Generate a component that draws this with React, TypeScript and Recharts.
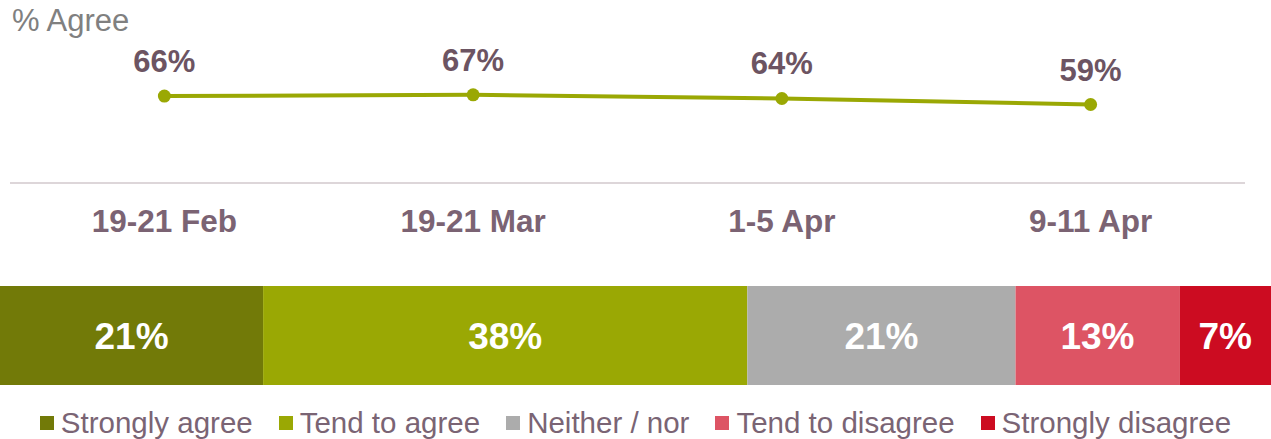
import React from "react";
import {
  LineChart,
  Line,
  XAxis,
  YAxis,
  BarChart,
  Bar,
  LabelList,
} from "recharts";

if (typeof document !== "undefined") document.body.style.margin = "0";

const FONT = "'Liberation Sans', Arial, sans-serif";

const PERIODS = ["19-21 Feb", "19-21 Mar", "1-5 Apr", "9-11 Apr"];
const AGREE = [66, 67, 64, 59];

const SEGMENTS = ["Strongly agree", "Tend to agree", "Neither / nor", "Tend to disagree", "Strongly disagree"];
const SEGMENT_KEYS = ["sa", "ta", "nn", "td", "sd"];
// unrounded shares; labels show them rounded
const SEGMENT_VALUES = [20.7, 38.1, 21.1, 12.9, 7.2];
const SEGMENT_COLORS = ["#727a08", "#9aa804", "#acacac", "#dd5464", "#cc0c21"];

const lineData = PERIODS.map((p, i) => ({ period: p, agree: AGREE[i] }));
const barData = [
  SEGMENT_KEYS.reduce((acc, k, i) => ({ ...acc, [k]: SEGMENT_VALUES[i] }), { name: "all" } as Record<string, number | string>),
];

function PeriodTick({ x, y, payload }: { x?: number; y?: number; payload?: { value: string } }) {
  return (
    <text
      x={x}
      y={(y ?? 0) + 41}
      textAnchor="middle"
      fill="#7b6373"
      fontSize={31.5}
      fontWeight="bold"
      fontFamily={FONT}
    >
      {payload?.value}
    </text>
  );
}

function PointLabel(props: { x?: number; y?: number; value?: number }) {
  const { x, y, value } = props;
  return (
    <text
      x={x}
      y={(y ?? 0) - 24}
      textAnchor="middle"
      fill="#6c5462"
      fontSize={31}
      fontWeight="bold"
      fontFamily={FONT}
    >
      {value}%
    </text>
  );
}

export default function App() {
  return (
    <div style={{ position: "relative", width: 1271, height: 439, fontFamily: FONT, background: "#fff" }}>
      <div
        style={{
          position: "absolute",
          left: 12,
          top: 3,
          fontSize: 31,
          color: "#808080",
          lineHeight: "36px",
        }}
      >
        % Agree
      </div>

      <div style={{ position: "absolute", left: 0, top: 0 }}>
        <LineChart width={1271} height={260} data={lineData} margin={{ top: 55, right: 26, left: 10, bottom: 17 }}>
          <XAxis
            dataKey="period"
            scale="band"
            height={60}
            axisLine={{ stroke: "#ddd6d9", strokeWidth: 2 }}
            tickLine={false}
            tick={<PeriodTick />}
            interval={0}
          />
          <YAxis hide domain={[-6, 100]} />
          <Line
            type="linear"
            dataKey="agree"
            stroke="#9aa804"
            strokeWidth={4}
            dot={{ r: 6.5, fill: "#9aa804", stroke: "none" }}
            activeDot={false}
            isAnimationActive={false}
          >
            <LabelList dataKey="agree" content={<PointLabel />} />
          </Line>
        </LineChart>
      </div>

      <div style={{ position: "absolute", left: 0, top: 286 }}>
        <BarChart
          width={1271}
          height={99}
          data={barData}
          layout="vertical"
          margin={{ top: 0, right: 0, left: 0, bottom: 0 }}
          barCategoryGap={0}
        >
          <XAxis type="number" hide domain={[0, 100]} />
          <YAxis type="category" dataKey="name" hide />
          {SEGMENT_KEYS.map((k, i) => (
            <Bar key={k} dataKey={k} stackId="s" fill={SEGMENT_COLORS[i]} isAnimationActive={false}>
              <LabelList
                dataKey={k}
                position="center"
                formatter={(v: number) => `${Math.round(v)}%`}
                fill="#ffffff"
                fontSize={37}
                fontWeight="bold"
                fontFamily={FONT}
              />
            </Bar>
          ))}
        </BarChart>
      </div>

      <div
        style={{
          position: "absolute",
          left: 0,
          top: 404,
          width: 1271,
          display: "flex",
          justifyContent: "center",
          gap: 26,
          fontSize: 29.5,
          lineHeight: "37px",
          color: "#7a6474",
        }}
      >
        {SEGMENTS.map((s, i) => (
          <div key={s} style={{ display: "flex", alignItems: "center" }}>
            <span style={{ display: "inline-block", width: 14, height: 14, background: SEGMENT_COLORS[i], marginRight: 7 }} />
            <span>{s}</span>
          </div>
        ))}
      </div>
    </div>
  );
}
